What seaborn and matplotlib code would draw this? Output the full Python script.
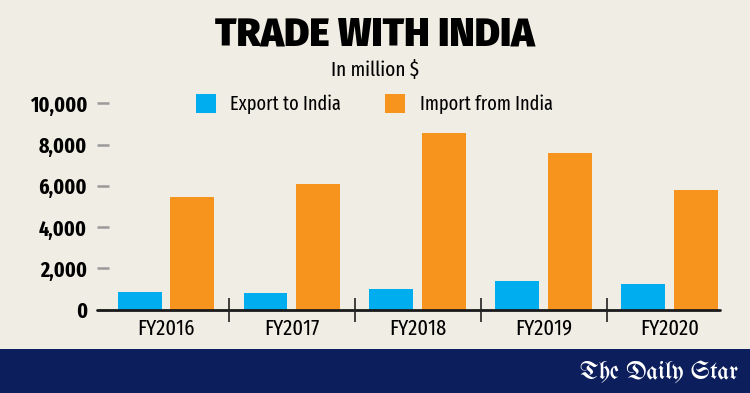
import matplotlib
matplotlib.use("Agg")
import matplotlib.pyplot as plt
from matplotlib.patches import Rectangle
import seaborn as sns
import pandas as pd

# values (million $)
years = ["FY2016", "FY2017", "FY2018", "FY2019", "FY2020"]
export_to_india = [870, 820, 1020, 1370, 1230]
import_from_india = [5450, 6090, 8560, 7590, 5800]
series = ["Export to India", "Import from India"]
colors = ["#00aeef", "#f7941d"]
yticks = [0, 2000, 4000, 6000, 8000, 10000]

df = pd.DataFrame({
    "year": years * 2,
    "series": [series[0]] * len(years) + [series[1]] * len(years),
    "value": export_to_india + import_from_india,
})

sns.set_theme(style="white")
plt.rcParams["font.family"] = ["Fira Sans Extra Condensed", "DejaVu Sans"]
plt.rcParams["text.color"] = "black"
plt.rcParams["xtick.color"] = "black"
plt.rcParams["ytick.labelcolor"] = "black"
bg = "#f0ede4"

fig = plt.figure(figsize=(7.5, 3.93), dpi=100, facecolor=bg)
ax = fig.add_axes([0.129, 0.2122, 0.831, 0.551])
ax.set_facecolor(bg)

sns.barplot(data=df, x="year", y="value", hue="series", palette=colors,
            width=0.84, gap=0.17, saturation=1, linewidth=0, ax=ax)

ax.set_xlim(-0.55, 4.4)
ax.set_ylim(0, 10500)
sns.despine(ax=ax, left=True, bottom=True)
ax.axhline(0, color="#1a1a1a", lw=2, clip_on=False)
ax.vlines([0.5, 1.5, 2.5, 3.5], -580, 580, colors="#222222", lw=1.2, clip_on=False)

ax.set_yticks(yticks)
ax.set_yticklabels([f"{v:,}" for v in yticks], fontsize=15.5, fontweight="bold")
ax.tick_params(axis="y", direction="in", length=8.5, width=1.8, color="#9a9a9a", pad=7, left=True)
ax.tick_params(axis="x", length=0, pad=6, labelsize=16)
ax.set_xlabel("")
ax.set_ylabel("")
ax.grid(False)

handles, labels = ax.get_legend_handles_labels()
ax.get_legend().remove()
fig.legend(handles, labels, loc="center", bbox_to_anchor=(0.499, 0.7354), ncol=2,
           frameon=False, fontsize=14.3, handlelength=1, handleheight=1.1,
           handletextpad=0.75, columnspacing=2.2)

fig.text(0.5, 1 - 35.5 / 393, "TRADE WITH INDIA", ha="center", va="center",
         fontsize=28, fontweight="black", family=["Fira Sans", "DejaVu Sans"])
fig.text(0.5, 1 - 70 / 393, "In million $", ha="center", va="center", fontsize=15)

# footer band
fig.patches.append(Rectangle((0, 0), 1, 44 / 393, transform=fig.transFigure,
                             facecolor="#0c1f5c", edgecolor="none", zorder=0))
fig.text(0.984, 21 / 393, "The Daily Star", ha="right", va="center", color="white",
         fontsize=18, family=["UnifrakturMaguntia", "DejaVu Serif"])

fig.savefig("out.png", dpi=100, facecolor=bg)
